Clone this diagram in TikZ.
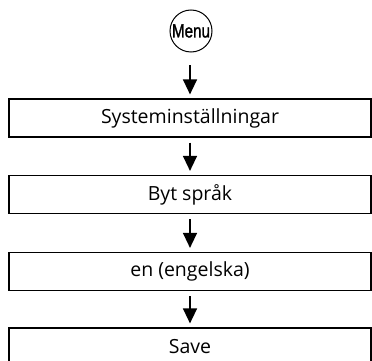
\documentclass[tikz,border=0pt]{standalone}
\usepackage{fontspec}
\setmainfont{Open Sans}
\newfontfamily\menufont{Liberation Sans}
\usetikzlibrary{arrows.meta}
\tikzset{
  stepbox/.style={draw, line width=1.2pt, rectangle, minimum width=362pt, minimum height=38pt, inner sep=0pt, font=\fontsize{19.5}{22}\selectfont},
  menubtn/.style={draw, line width=1pt, circle, minimum size=42pt, inner sep=0pt, font=\menufont\fontsize{19}{21}\selectfont},
  flow/.style={line width=1.4pt, -{Triangle[width=14pt,length=15pt]}, shorten <=5pt, shorten >=4pt}
}
\begin{document}
\begin{tikzpicture}[x=1pt,y=-1pt]
\useasboundingbox (0,0) rectangle (372,361);
\clip (0,0) rectangle (372,361);
\node[menubtn] (menu) at (191,31) {\scalebox{0.8}[1]{\addfontfeatures{FakeBold=1.5}Menu}};
\node[stepbox] (b1) at (190,118) {Systeminställningar};
\node[stepbox] (b2) at (190,194.5) {Byt språk};
\node[stepbox] (b3) at (190,271.5) {en (engelska)};
\node[stepbox] (b4) at (190,347) {Save};
\draw[flow, shorten <=13pt] (menu.south -| b1.north) -- (b1.north);
\draw[flow] (b1) -- (b2);
\draw[flow] (b2) -- (b3);
\draw[flow] (b3) -- (b4);
\end{tikzpicture}
\end{document}
